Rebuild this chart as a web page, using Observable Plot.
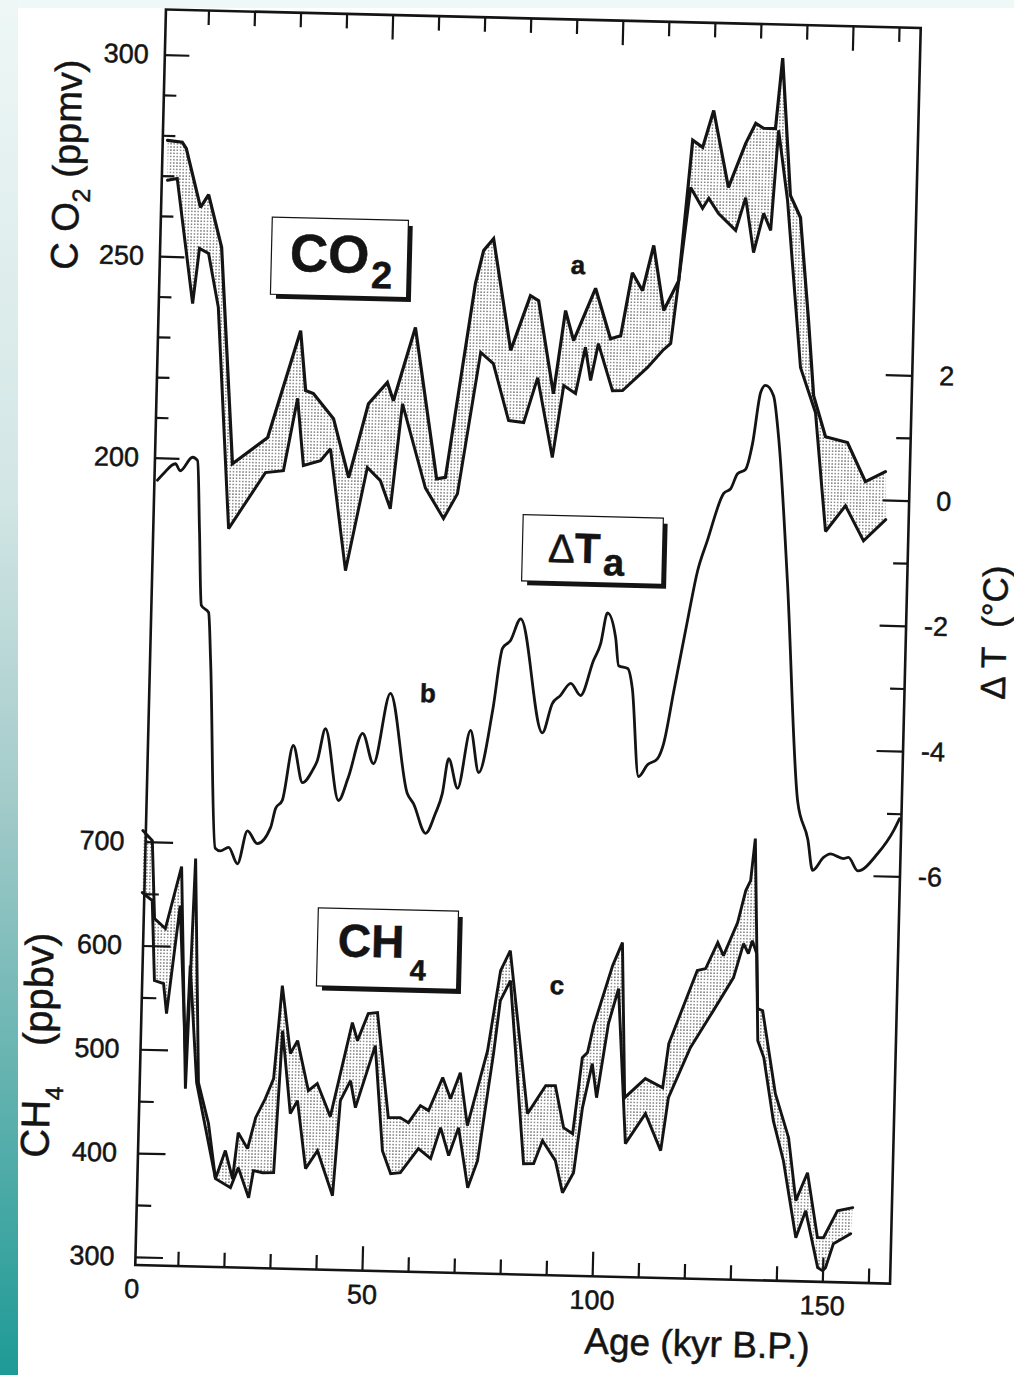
<!DOCTYPE html>
<html>
<head>
<meta charset="utf-8">
<script src="https://cdn.jsdelivr.net/npm/d3@7"></script>
<script src="https://cdn.jsdelivr.net/npm/@observablehq/plot@0.6"></script>
<style>
html, body { margin: 0; padding: 0; width: 1014px; height: 1375px; overflow: hidden; background: #eef9f7; }
#strip { position: absolute; left: 0; top: 0; width: 18px; height: 1375px;
  background: linear-gradient(to bottom, #eef7f6 0%, #d2e6e5 36%, #a3cbca 58%, #5fb1ae 80%, #1e9a96 100%); }
#paper { position: absolute; left: 18px; top: 8px; width: 996px; height: 1367px; background: #ffffff; }
#rot { position: absolute; left: 0; top: 0; width: 1014px; height: 1375px;
  transform: rotate(1.4deg); transform-origin: 527.5px 646.25px; }
#rot svg { position: absolute; left: 0; top: 0; overflow: visible; }
</style>
</head>
<body>
<div id="strip"></div>
<div id="paper"></div>
<svg width="0" height="0" style="position:absolute">
  <defs>
    <pattern id="stipple" width="3.2" height="3.2" patternUnits="userSpaceOnUse">
      <circle cx="1.6" cy="1.6" r="0.68" fill="#222222"></circle>
    </pattern>
  </defs>
</svg>
<div id="rot"></div>
<script>
// ---------------- data ----------------
const co2UpperAge = [1.7, 4.9, 5.8, 9.2, 10.9, 14.0, 17.5, 25.0, 31.6, 33.0, 34.7, 39.2, 42.8, 46.7, 50.7, 52.1, 56.5, 61.9, 63.8, 69.3, 70.9, 73.0, 77.3, 81.3, 83.1, 86.8, 89.0, 90.9, 95.4, 98.9, 101.1, 103.3, 105.6, 107.8, 110.3, 113.4, 115.7, 117.9, 120.1, 123.7, 127.2, 129.3, 131.0, 133.6, 134.8, 137.2, 139.5, 141.8, 143.3, 146.1, 150.9, 155.0, 159.3];
const co2UpperPpmv = [278.9, 278.5, 277.0, 262.5, 265.7, 252.7, 199.1, 205.8, 232.5, 217.7, 217.0, 210.9, 196.4, 214.8, 220.2, 215.7, 234.0, 196.6, 197.0, 245.3, 253.5, 256.5, 228.9, 242.6, 241.4, 218.4, 239.1, 231.7, 244.8, 232.4, 233.2, 248.9, 244.5, 255.8, 239.7, 247.2, 282.1, 280.4, 289.6, 270.6, 281.6, 286.7, 285.5, 285.5, 303.0, 269.0, 263.6, 238.1, 219.5, 209.4, 208.1, 198.5, 201.1];

const co2LowerAge = [1.9, 4.0, 8.0, 9.2, 11.2, 13.6, 17.0, 24.7, 28.6, 31.3, 32.9, 36.6, 38.7, 42.6, 46.8, 49.7, 52.0, 54.1, 59.5, 63.6, 66.5, 70.8, 73.6, 77.2, 80.5, 83.3, 86.9, 89.0, 91.6, 93.5, 94.8, 96.3, 99.6, 101.8, 107.1, 110.3, 112.0, 115.5, 118.2, 119.5, 121.7, 125.5, 127.5, 129.5, 131.5, 133.1, 134.3, 136.6, 140.3, 143.8, 146.6, 150.8, 154.9, 159.6];
const co2LowerPpmv = [269.0, 269.5, 238.6, 252.3, 251.1, 237.8, 183.0, 197.1, 197.7, 215.7, 199.1, 200.4, 203.4, 173.3, 199.0, 195.8, 188.9, 215.0, 194.3, 186.8, 193.0, 228.2, 225.5, 211.5, 211.1, 222.3, 202.6, 220.5, 218.6, 230.1, 221.9, 231.1, 219.5, 219.6, 225.5, 229.8, 231.6, 270.4, 265.3, 267.8, 264.1, 260.0, 268.2, 254.6, 264.4, 260.2, 285.1, 267.8, 226.4, 215.3, 185.9, 192.4, 183.8, 189.2];

const tempAge = [1.3, 2.6, 5.1, 6.2, 8.8, 9.9, 10.7, 11.5, 13.1, 13.8, 15.8, 16.9, 18.7, 20.7, 22.7, 24.9, 27.7, 28.7, 30.1, 32.2, 34.4, 36.5, 37.5, 39.1, 42.3, 44.3, 47.2, 49.7, 53.0, 57.2, 58.6, 61.4, 63.4, 64.8, 66.0, 68.1, 70.6, 72.6, 75.3, 77.1, 78.8, 80.9, 86.2, 88.2, 89.9, 92.1, 94.3, 96.9, 98.4, 99.7, 101.6, 102.4, 104.4, 105.5, 107.3, 109.2, 111.3, 112.6, 114.5, 117.3, 119.0, 121.0, 124.3, 125.8, 127.2, 128.9, 130.3, 131.8, 132.8, 134.6, 135.9, 138.6, 142.0, 144.4, 145.6, 147.9, 149.4, 152.2, 153.3, 155.4, 159.6, 163.0, 164.2];
const tempDelta = [0.04, 0.15, 0.31, 0.20, 0.42, 0.37, -0.75, -1.94, -2.05, -2.82, -5.81, -5.85, -5.79, -6.05, -5.52, -5.72, -5.46, -5.15, -5.02, -4.14, -4.73, -4.53, -4.37, -3.86, -5.00, -4.63, -3.92, -4.40, -3.27, -4.86, -5.02, -5.49, -5.17, -4.85, -4.29, -4.76, -3.83, -4.50, -3.50, -2.51, -2.38, -2.03, -3.84, -3.37, -3.24, -3.04, -3.23, -2.67, -2.39, -1.90, -2.29, -2.74, -2.78, -3.10, -4.50, -4.31, -4.21, -3.96, -3.13, -1.91, -1.21, -0.71, 0.05, 0.13, 0.37, 0.44, 0.86, 1.68, 1.79, 1.63, 0.98, -1.33, -4.84, -5.44, -5.93, -5.72, -5.66, -5.73, -5.71, -5.92, -5.64, -5.26, -5.07];

const ch4UpperAge = [0.0, 2.1, 3.0, 5.4, 8.6, 10.6, 11.6, 13.4, 15.8, 17.6, 19.6, 21.3, 22.3, 24.4, 26.0, 28.0, 29.7, 31.1, 33.2, 34.7, 37.3, 39.2, 42.2, 46.5, 47.7, 49.9, 51.9, 54.8, 57.4, 59.2, 61.7, 63.5, 66.4, 68.2, 70.2, 72.0, 76.0, 78.4, 80.4, 85.0, 88.8, 90.9, 92.9, 94.9, 96.6, 97.7, 98.9, 102.7, 104.7, 106.0, 110.4, 114.2, 115.3, 121.1, 122.9, 125.4, 126.7, 129.6, 131.2, 132.2, 133.0, 134.4, 135.5, 138.7, 141.8, 143.7, 146.1, 148.6, 149.9, 152.8, 156.1];
const ch4UpperPpbv = [711.2, 701.8, 626.7, 617.3, 677.4, 463.6, 685.5, 469.7, 430.5, 377.6, 404.9, 378.0, 422.5, 407.3, 437.3, 455.9, 475.3, 565.1, 499.8, 512.5, 464.6, 471.6, 440.1, 531.1, 513.9, 540.2, 541.4, 440.5, 440.8, 436.1, 452.8, 448.2, 480.3, 460.2, 485.5, 434.6, 507.3, 584.7, 604.2, 447.6, 475.0, 475.2, 435.0, 429.4, 502.8, 507.8, 533.9, 592.2, 614.6, 465.3, 484.1, 475.8, 518.3, 589.4, 591.5, 616.8, 604.4, 636.5, 667.6, 677.3, 717.9, 554.2, 552.3, 472.7, 430.6, 370.1, 397.3, 335.0, 335.1, 361.4, 364.7];

const ch4LowerAge = [0.2, 2.4, 3.3, 5.3, 6.1, 8.5, 10.5, 11.0, 13.0, 17.6, 20.9, 22.5, 24.9, 25.8, 27.8, 30.2, 31.4, 33.5, 35.0, 37.1, 39.6, 43.1, 44.3, 46.4, 47.6, 51.6, 53.7, 55.6, 57.7, 61.5, 64.2, 66.2, 68.1, 70.1, 72.4, 74.4, 77.3, 78.5, 80.6, 84.4, 86.6, 88.4, 91.3, 93.0, 95.3, 96.9, 98.8, 99.9, 102.1, 104.1, 106.4, 110.6, 114.1, 115.5, 120.0, 124.8, 129.0, 131.0, 132.1, 132.9, 133.9, 134.6, 136.0, 138.4, 140.8, 143.9, 145.9, 148.8, 149.9, 150.5, 152.1, 155.8];
const ch4LowerPpbv = [651.5, 644.0, 567.0, 564.3, 535.4, 639.8, 490.6, 582.3, 469.7, 377.6, 369.3, 388.8, 360.1, 386.2, 384.5, 384.8, 521.8, 442.0, 454.7, 389.4, 407.0, 364.0, 455.7, 475.2, 449.3, 509.5, 408.5, 386.6, 387.8, 411.3, 402.0, 432.1, 405.3, 432.5, 374.9, 401.1, 504.6, 555.8, 575.3, 399.3, 399.6, 421.9, 403.0, 372.3, 391.8, 454.7, 497.3, 464.6, 536.2, 570.2, 421.0, 450.4, 415.1, 466.3, 515.0, 551.2, 583.5, 616.4, 606.9, 619.5, 607.1, 523.3, 507.1, 446.6, 408.3, 334.4, 360.7, 306.1, 303.3, 306.2, 329.6, 339.6];

// ticks and tick labels
const ageMajorTicks = [50, 100, 150];
const ageMinorTicks = [10, 20, 30, 40, 60, 70, 80, 90, 110, 120, 130, 140, 160];
const ageLabels = [0, 50, 100, 150];
const co2MajorTicks = [200, 250, 300];
const co2MinorTicks = [210, 220, 230, 240, 260, 270, 280, 290];
const co2Labels = [200, 250, 300];
const tempMajorTicks = [-6, -4, -2, 0, 2];
const tempMinorTicks = [-5, -3, -1, 1];
const tempLabels = [-6, -4, -2, 0, 2];
const ch4MajorTicks = [300, 400, 500, 600, 700];
const ch4MinorTicks = [350, 450, 550, 650];
const ch4Labels = [300, 400, 500, 600, 700];

// ---------------- tables ----------------
const zip = (ages, vals) => ages.map((a, i) => ({age: a, value: vals[i]}));
const co2Upper = zip(co2UpperAge, co2UpperPpmv);
const co2Lower = zip(co2LowerAge, co2LowerPpmv);
const co2Band = co2Upper.concat(co2Lower.slice().reverse());
const temp = zip(tempAge, tempDelta);
const ch4Upper = zip(ch4UpperAge, ch4UpperPpbv);
const ch4Lower = zip(ch4LowerAge, ch4LowerPpbv);
const ch4Band = ch4Upper.concat(ch4Lower.slice().reverse());

// ---------------- layout ----------------
const FONT = "'Liberation Sans', Arial, Helvetica, sans-serif";
const INK = "#141414";
const W = 1014, H = 1375;
const MT = 18, MR = 109, MB = 101, ML = 150;
const FW = W - ML - MR;
const FH = H - MT - MB;

function layer(yDomain, marks) {
  return Plot.plot({
    width: W, height: H,
    marginTop: MT, marginRight: MR, marginBottom: MB, marginLeft: ML,
    x: {domain: [0.65, 164.6], axis: null},
    y: {domain: yDomain, axis: null},
    style: {background: "transparent", fontFamily: FONT, fontSize: "27px", color: INK, overflow: "visible"},
    marks
  });
}

const tk = {stroke: INK, strokeWidth: 2.2};
const lbl = {fill: INK, stroke: INK, strokeWidth: 0.5, fontSize: 27};
const dataLine = {x: "age", y: "value", stroke: INK, strokeLinejoin: "miter", strokeMiterlimit: 2.5};

// CH4 layer (bottom)
const ch4Layer = layer([292.5, 1502.5], [
  Plot.line(ch4Band, {x: "age", y: "value", fill: "url(#stipple)", stroke: "none"}),
  Plot.line(ch4Upper, {...dataLine, strokeWidth: 2.9}),
  Plot.line(ch4Lower, {...dataLine, strokeWidth: 2.9}),
  Plot.ruleY(ch4MajorTicks, {y: d => d, insetRight: FW - 28, ...tk}),
  Plot.ruleY(ch4MinorTicks, {y: d => d, insetRight: FW - 15, ...tk}),
  Plot.text(ch4Labels, {y: d => d, text: d => String(d), frameAnchor: "left", textAnchor: "end", dx: -21, ...lbl})
]);

// temperature layer
const tempLayer = layer([-12.493, 7.555], [
  Plot.line(temp, {x: "age", y: "value", curve: "monotone-x", stroke: INK, strokeWidth: 2.8}),
  Plot.ruleY(tempMajorTicks, {y: d => d, insetLeft: FW - 26, ...tk}),
  Plot.ruleY(tempMinorTicks, {y: d => d, insetLeft: FW - 14, ...tk}),
  Plot.text(tempLabels, {y: d => d, text: d => String(d), frameAnchor: "right", textAnchor: "end", dx: 42, ...lbl})
]);

// CO2 layer + frame + age axis (top)
const co2Layer = layer([-0.17, 311.33], [
  Plot.line(co2Band, {x: "age", y: "value", fill: "url(#stipple)", stroke: "none"}),
  Plot.line(co2Upper, {...dataLine, strokeWidth: 3.2}),
  Plot.line(co2Lower, {...dataLine, strokeWidth: 3.0}),
  Plot.frame({stroke: INK, strokeWidth: 2.6}),
  Plot.ruleY(co2MajorTicks, {y: d => d, insetRight: FW - 25, ...tk}),
  Plot.ruleY(co2MinorTicks, {y: d => d, insetRight: FW - 13, ...tk}),
  Plot.ruleX(ageMajorTicks, {x: d => d, insetTop: FH - 24, ...tk}),
  Plot.ruleX(ageMinorTicks, {x: d => d, insetTop: FH - 14, ...tk}),
  Plot.ruleX(ageMajorTicks, {x: d => d, insetBottom: FH - 25, ...tk}),
  Plot.ruleX(ageMinorTicks, {x: d => d, insetBottom: FH - 15, ...tk}),
  Plot.text(co2Labels, {y: d => d, text: d => String(d), frameAnchor: "left", textAnchor: "end", dx: -16, ...lbl}),
  Plot.text(ageLabels, {x: d => d, text: d => String(d), frameAnchor: "bottom", dy: 33, ...lbl})
]);

const rot = document.getElementById("rot");
rot.appendChild(ch4Layer);
rot.appendChild(tempLayer);
rot.appendChild(co2Layer);

// ---------------- titles and annotation boxes ----------------
const ann = d3.select(co2Layer).append("g")
  .attr("font-family", FONT).attr("fill", INK)
  .attr("stroke", INK).attr("stroke-width", 0.5).style("paint-order", "stroke");

function box(x, y, w, h) {
  ann.append("rect").attr("x", x + 5).attr("y", y + 5).attr("width", w).attr("height", h)
    .attr("fill", INK).attr("stroke", "none");
  ann.append("rect").attr("x", x).attr("y", y).attr("width", w).attr("height", h)
    .attr("fill", "#ffffff").attr("stroke", INK).attr("stroke-width", 2.4);
}

// axis titles
let t = ann.append("text").attr("transform", "translate(68,176) rotate(-90)")
  .attr("text-anchor", "middle").attr("font-size", 38);
t.append("tspan").text("C O");
t.append("tspan").attr("font-size", 25).attr("dy", 11).text("2");
t.append("tspan").attr("dy", -11).text(" (ppmv)");

t = ann.append("text").attr("transform", "translate(61,1057) rotate(-90)")
  .attr("text-anchor", "middle").attr("font-size", 40);
t.append("tspan").text("CH");
t.append("tspan").attr("font-size", 25).attr("dy", 13).text("4");
t.append("tspan").attr("dy", -13).text("\u2003(ppbv)");

ann.append("text").attr("transform", "translate(1006,621) rotate(-90)")
  .attr("text-anchor", "middle").attr("font-size", 35).text("\u0394 T  (\u00B0C)");

ann.append("text").attr("x", 714).attr("y", 1352).attr("text-anchor", "middle")
  .attr("font-size", 37).text("Age (kyr B.P.)");

// CO2 box
box(262.5, 224, 135, 76);
t = ann.append("text").attr("x", 280.5).attr("y", 277).attr("text-anchor", "start")
  .attr("font-size", 53).attr("font-weight", "bold");
t.append("tspan").text("CO");
t.append("tspan").attr("font-size", 38).attr("dy", 15).attr("dx", 2).text("2");

// Delta Ta box
box(520.6, 515.4, 139, 65);
t = ann.append("text").attr("x", 545.7).attr("y", 561.5).attr("text-anchor", "start");
t.append("tspan").attr("font-size", 40).text("\u0394");
t.append("tspan").attr("font-size", 42).attr("font-weight", "bold").text("T");
t.append("tspan").attr("font-size", 38).attr("font-weight", "bold").attr("dy", 12).attr("dx", 3).text("a");

// CH4 box
box(325.4, 913.4, 139, 77);
t = ann.append("text").attr("x", 345.2).attr("y", 960.8).attr("text-anchor", "start")
  .attr("font-size", 46).attr("font-weight", "bold");
t.append("tspan").text("CH");
t.append("tspan").attr("font-size", 29).attr("dy", 22).attr("dx", 6).text("4");

// panel letters
[["a", 568.7, 263.8], ["b", 429.2, 695.4], ["c", 565.3, 984.3]].forEach(([s, x, y]) => {
  ann.append("text").attr("x", x).attr("y", y).attr("dy", "0.35em").attr("text-anchor", "middle")
    .attr("font-size", 26).attr("font-weight", "bold").text(s);
});
</script>
</body>
</html>
